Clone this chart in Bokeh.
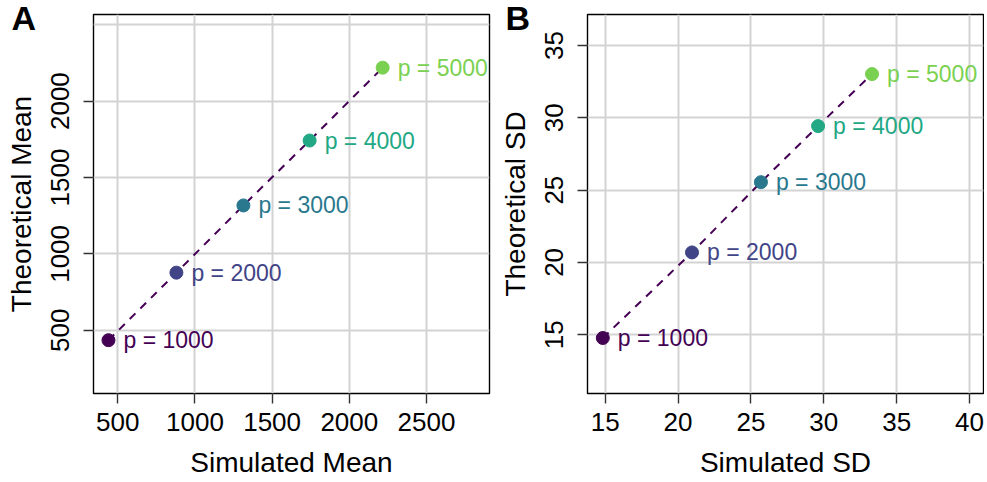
from bokeh.plotting import figure
from bokeh.layouts import row
from bokeh.models import Range1d, FixedTicker, ColumnDataSource
from bokeh.core.properties import value
from bokeh.embed import file_html
from bokeh.resources import INLINE

# ---- data ----
p_vals = [1000, 2000, 3000, 4000, 5000]
point_labels = ["p = 1000", "p = 2000", "p = 3000", "p = 4000", "p = 5000"]
colors = ["#440154", "#414487", "#2A788E", "#22A884", "#7AD151"]

sim_mean = [440, 880, 1314, 1743, 2216]
theo_mean = [435, 877, 1317, 1742, 2219]

sim_sd = [14.84, 20.96, 25.69, 29.61, 33.31]
theo_sd = [14.77, 20.69, 25.55, 29.43, 33.03]

a_xticks = [500, 1000, 1500, 2000, 2500]
a_yticks = [500, 1000, 1500, 2000]
a_ygrid = [500, 1000, 1500, 2000, 2500]
b_xticks = [15, 20, 25, 30, 35, 40]
b_yticks = [15, 20, 25, 30, 35]

FONT = "Liberation Sans"
H = 480


def make_panel(xs, ys, xr, yr, xticks, yticks, ygrid, xlab, ylab, letter,
               width, border_left, border_right):
    p = figure(width=width, height=H, output_backend="svg", toolbar_location=None,
               x_range=Range1d(*xr), y_range=Range1d(*yr), title=letter,
               min_border_left=border_left, min_border_right=border_right,
               min_border_top=14, min_border_bottom=H - 396)
    p.background_fill_color = "white"
    p.border_fill_color = "white"
    p.outline_line_color = "black"
    p.outline_line_width = 1.4
    p.outline_line_alpha = 1.0

    # panel letter as a title, pulled into the top-left corner
    p.title.text_font = FONT
    p.title.text_font_size = "34px"
    p.title.text_font_style = "bold"
    p.title.text_color = "black"
    p.title.align = "left"
    p.title.vertical_align = "bottom"
    p.title.standoff = -44
    p.title.offset = -82

    for ax in (p.xaxis[0], p.yaxis[0]):
        ax.axis_line_color = None
        ax.major_tick_out = 10
        ax.major_tick_in = 0
        ax.major_tick_line_color = "#333333"
        ax.major_tick_line_width = 1.4
        ax.minor_tick_line_color = None
        ax.major_label_text_font = FONT
        ax.major_label_text_font_size = "26px"
        ax.major_label_text_color = "black"
        ax.axis_label_text_font = FONT
        ax.axis_label_text_font_size = "28px"
        ax.axis_label_text_font_style = "normal"
        ax.axis_label_text_color = "black"

    p.xaxis.ticker = FixedTicker(ticks=xticks)
    p.yaxis.ticker = FixedTicker(ticks=yticks)
    p.xgrid.ticker = FixedTicker(ticks=xticks)
    p.ygrid.ticker = FixedTicker(ticks=ygrid)
    p.xaxis.axis_label = xlab
    p.yaxis.axis_label = ylab
    p.xaxis.major_label_standoff = 9
    p.yaxis.major_label_standoff = 14
    p.xaxis.axis_label_standoff = 13
    p.yaxis.axis_label_standoff = 12
    p.yaxis.major_label_orientation = "vertical"

    for g in (p.xgrid[0], p.ygrid[0]):
        g.grid_line_color = "#D3D3D3"
        g.grid_line_width = 2

    src = ColumnDataSource(dict(x=xs, y=ys, c=colors, t=point_labels))
    p.line(xs, ys, line_color="#440154", line_width=2, line_dash="8 7")
    p.scatter("x", "y", source=src, size=13, fill_color="c", line_color="c")
    p.text("x", "y", text="t", source=src, x_offset=15, text_baseline="middle",
           text_align="left", text_color="c", text_font=value(FONT),
           text_font_size="23px")
    return p


pa = make_panel(sim_mean, theo_mean, (343, 2908), (86, 2567), a_xticks, a_yticks,
                a_ygrid, "Simulated Mean", "Theoretical Mean", "A", 491, 93, 2)
pb = make_panel(sim_sd, theo_sd, (13.79, 40.96), (10.93, 37.15), b_xticks, b_yticks,
                b_yticks, "Simulated SD", "Theoretical SD", "B", 493, 96, 1)

layout = row(pa, pb, spacing=0)
open("out.html", "w").write(file_html(layout, INLINE))
